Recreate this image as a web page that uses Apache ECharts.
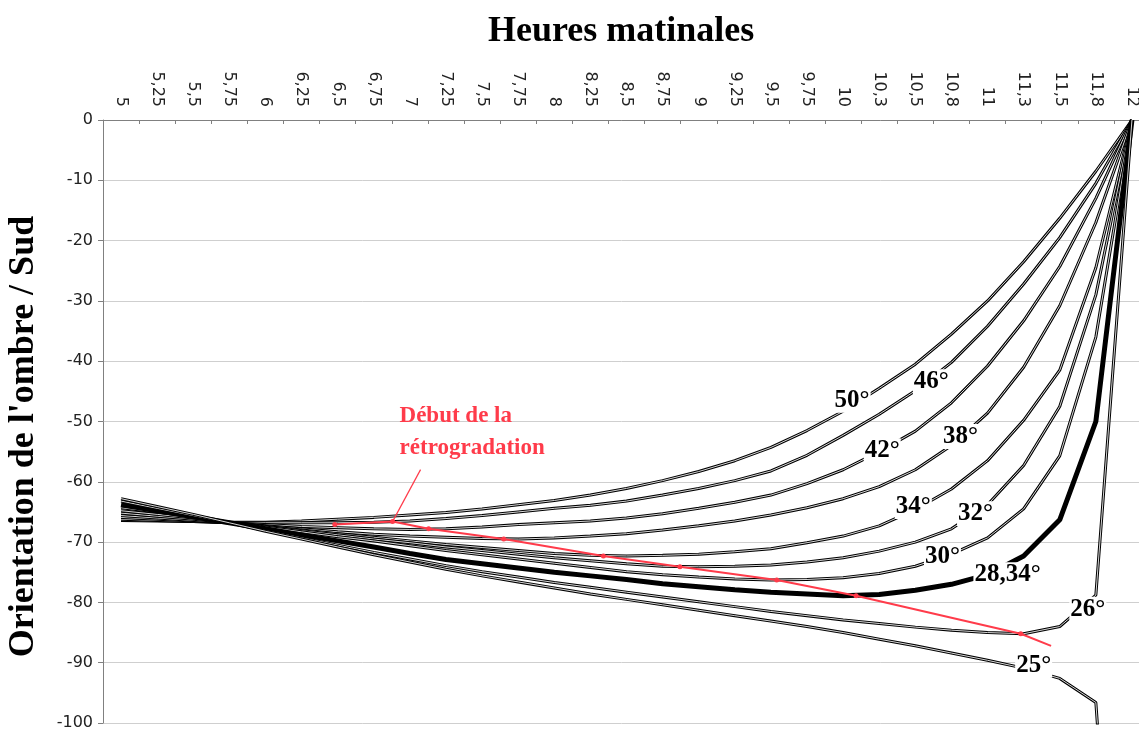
<!DOCTYPE html>
<html><head><meta charset="utf-8">
<script src="https://cdn.jsdelivr.net/npm/echarts@6/dist/echarts.min.js"></script>
<style>html,body{margin:0;padding:0;background:#fff}#c{width:1139px;height:731px}</style>
</head><body><div id="c"></div>
<script>
// Category tick labels (hours, French decimal notation as printed)
const xLabels = ['5','5,25','5,5','5,75','6','6,25','6,5','6,75','7','7,25','7,5','7,75','8','8,25','8,5','8,75','9','9,25','9,5','9,75','10','10,3','10,5','10,8','11','11,3','11,5','11,8','12'];

// Shadow orientation curves (one value per hour category)
const s50 = [-66.4,-66.5,-66.6,-66.7,-66.7,-66.5,-66.2,-65.9,-65.5,-65.1,-64.5,-63.8,-63.1,-62.2,-61.1,-59.8,-58.3,-56.5,-54.3,-51.5,-48.3,-44.5,-40.5,-35.5,-30.0,-23.5,-16.3,-8.5,0];
const s46 = [-66.2,-66.4,-66.6,-66.8,-66.8,-66.8,-66.8,-66.7,-66.5,-66.1,-65.6,-65.0,-64.4,-63.9,-63.2,-62.2,-61.1,-59.8,-58.2,-55.6,-52.3,-48.8,-44.9,-40.2,-34.2,-27.2,-19.5,-10.5,0];
const s42 = [-65.9,-66.2,-66.5,-66.8,-67.1,-67.4,-67.6,-67.8,-67.9,-67.8,-67.5,-67.1,-66.8,-66.5,-66.0,-65.3,-64.4,-63.4,-62.2,-60.3,-58.0,-55.0,-51.6,-46.9,-40.8,-33.3,-24.3,-13.0,0];
const s38 = [-65.6,-66.0,-66.4,-66.8,-67.3,-67.8,-68.3,-68.7,-69.0,-69.2,-69.4,-69.5,-69.3,-69.0,-68.6,-68.0,-67.3,-66.5,-65.5,-64.3,-62.8,-60.8,-58.0,-54.0,-48.6,-41.0,-30.8,-17.0,0];
const s34 = [-65.2,-65.7,-66.2,-66.8,-67.4,-68.0,-68.6,-69.2,-69.8,-70.4,-70.9,-71.4,-71.9,-72.2,-72.3,-72.2,-72.0,-71.6,-71.1,-70.1,-69.0,-67.3,-64.6,-61.2,-56.5,-49.8,-41.5,-24.5,0];
const s32 = [-64.8,-65.4,-66.0,-66.7,-67.4,-68.1,-68.8,-69.5,-70.1,-70.8,-71.4,-72.0,-72.6,-73.1,-73.6,-74.0,-74.1,-74.0,-73.8,-73.3,-72.6,-71.5,-70.0,-67.8,-63.8,-57.3,-47.5,-29.0,0];
const s30 = [-64.3,-65.0,-65.8,-66.7,-67.5,-68.3,-69.1,-69.8,-70.6,-71.4,-72.1,-72.8,-73.5,-74.2,-74.9,-75.4,-75.8,-76.1,-76.3,-76.2,-75.9,-75.2,-74.0,-72.0,-69.3,-64.5,-55.7,-36.0,0];
const s2834 = [-63.8,-64.8,-65.8,-66.8,-67.8,-68.8,-69.8,-70.8,-71.9,-72.9,-73.6,-74.3,-75.0,-75.6,-76.2,-76.9,-77.4,-77.9,-78.3,-78.6,-78.9,-78.7,-78.0,-77.0,-75.4,-72.3,-66.3,-50.0,0];
const s26 = [-63.2,-64.4,-65.6,-66.8,-68.1,-69.3,-70.5,-71.7,-72.8,-73.9,-74.9,-75.8,-76.7,-77.5,-78.3,-79.1,-79.9,-80.7,-81.5,-82.2,-82.9,-83.5,-84.1,-84.6,-85.0,-85.2,-84.0,-78.8,0];
const s25 = [-62.8,-64.1,-65.4,-66.8,-68.2,-69.5,-70.8,-72.1,-73.3,-74.5,-75.6,-76.6,-77.6,-78.6,-79.5,-80.4,-81.3,-82.2,-83.1,-84.0,-85.0,-86.1,-87.2,-88.4,-89.6,-90.9,-92.6,-96.6,-180];

// "Début de la rétrogradation" line (hour, value)
const redHours = [6.48,6.88,7.13,7.65,8.34,8.87,9.54,10.09,11.23,11.44];
const redVals  = [-67.1,-66.6,-67.8,-69.5,-72.3,-74.1,-76.3,-78.9,-85.2,-87.2];

// Y tick values
const yMin = -100, yMax = 0, yStep = 10;

const curves = [
  {name:'50°', data:s50, li:20, off:[9,-11]},
  {name:'46°', data:s46, li:22, off:[16,-9]},
  {name:'42°', data:s42, li:21, off:[3,-1]},
  {name:'38°', data:s38, li:23, off:[9,-9]},
  {name:'34°', data:s34, li:22, off:[-2,-3]},
  {name:'32°', data:s32, li:24, off:[-12,9]},
  {name:'30°', data:s30, li:23, off:[-9,2]},
  {name:'28,34°', data:s2834, li:24, off:[20,0], bold:true},
  {name:'26°', data:s26, li:27, off:[-8,14]},
  {name:'25°', data:s25, li:25, off:[10,-3]}
];

const labelFont = {fontFamily:'Liberation Serif', fontSize:25, fontWeight:'bold', color:'#000'};
const series = [];
curves.forEach(c => {
  series.push({
    type:'line', name:c.name, data:c.data, symbol:'none', z:2,
    lineStyle:{color:'#000', width:c.bold?5:3}, silent:true,
    markPoint:{
      symbol:'circle', symbolSize:1, itemStyle:{color:'rgba(0,0,0,0)'}, z:6, silent:true,
      label:Object.assign({show:true, position:'inside', formatter:c.name, offset:c.off,
        backgroundColor:'#fff', padding:[0,1]}, labelFont),
      data:[{coord:[xLabels[c.li], c.data[c.li]]}]
    }
  });
  if(!c.bold){
    series.push({type:'line', data:c.data, symbol:'none', z:2, silent:true,
      lineStyle:{color:'#d8d8d8', width:1}});
  }
});
series.push({
  type:'line', xAxisIndex:1, z:4, silent:true,
  data: redHours.map((h,i)=> i===redHours.length-1 ? {value:[h,redVals[i]], symbol:'none'} : [h,redVals[i]]),
  symbol:'circle', symbolSize:5, itemStyle:{color:'#ff3b4a'},
  lineStyle:{color:'#ff3b4a', width:2}
});

const chart = echarts.init(document.getElementById('c'), null, {renderer:'canvas'});
chart.setOption({
  animation:false,
  backgroundColor:'#fff',
  title:{text:'Heures matinales', left:483, top:9,
    textStyle:{fontFamily:'Liberation Serif', fontSize:36, fontWeight:'bold', color:'#000'}},
  grid:{left:103, top:120, width:1047, height:603, containLabel:false, outerBoundsMode:'none'},
  xAxis:[{
    type:'category', data:xLabels, position:'top', boundaryGap:true,
    axisLine:{lineStyle:{color:'#808080', width:1}},
    axisTick:{show:true, inside:true, length:4, interval:0, lineStyle:{color:'#808080'}},
    axisLabel:{interval:0, rotate:-90, margin:13, fontFamily:'DejaVu Sans', fontSize:16, color:'#222'},
    splitLine:{show:false}
  },{
    type:'value', min:4.875, max:12.125, show:false
  }],
  yAxis:{
    type:'value', min:yMin, max:yMax, interval:yStep,
    name:"Orientation de l'ombre / Sud", nameLocation:'middle', nameRotate:90, nameGap:61,
    nameTextStyle:{fontFamily:'Liberation Serif', fontSize:36, fontWeight:'bold', color:'#000', padding:[0,30,0,0]},
    axisLine:{show:true, lineStyle:{color:'#808080'}},
    axisTick:{show:true, length:5, lineStyle:{color:'#808080'}},
    axisLabel:{margin:10, fontFamily:'DejaVu Sans', fontSize:16, color:'#222'},
    splitLine:{lineStyle:{color:'#cfcfcf', width:1}}
  },
  series:series
});

// annotation anchored on the second red marker
const p = chart.convertToPixel({xAxisIndex:1, yAxisIndex:0}, [redHours[1], redVals[1]]);
chart.setOption({graphic:[
  {type:'line', silent:true, z:10, shape:{x1:p[0], y1:p[1], x2:p[0]+28, y2:p[1]-52},
   style:{stroke:'#ff3b4a', lineWidth:1.2}},
  {type:'text', silent:true, z:10, left:p[0]+7, top:p[1]-122,
   style:{text:'Début de la\nrétrogradation', fill:'#ff3b4a', font:'bold 23px "Liberation Serif"', lineHeight:32}}
]});
</script></body></html>
